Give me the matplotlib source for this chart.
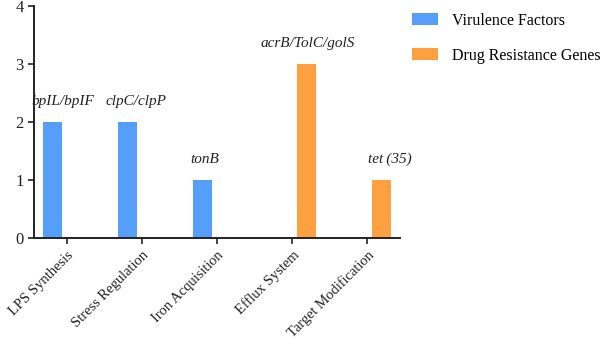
import numpy as np
import matplotlib.pyplot as plt

plt.rcParams['font.family'] = ['Liberation Serif', 'DejaVu Serif']

categories = ['LPS Synthesis', 'Stress Regulation', 'Iron Acquisition',
              'Efflux System', 'Target Modification']
virulence = [2, 2, 1, 0, 0]
drug = [0, 0, 0, 3, 1]
gene_labels = ['bpIL/bpIF', 'clpC/clpP', 'tonB', 'acrB/TolC/golS', 'tet\u2009(35)']
label_shift = [0.13, 0.11, 0.03, 0.02, 0.11]

blue = '#559ffa'
orange = '#fda040'

fig = plt.figure(figsize=(6.08, 3.39), dpi=100)
ax = fig.add_axes([0.056, 0.298, 0.602, 0.684])

x = np.arange(len(categories))
w = 0.25
off = 0.19
ax.bar(x - off, virulence, w, color=blue, label='Virulence Factors')
ax.bar(x + off, drug, w, color=orange, label='Drug Resistance Genes')

# gene names above the taller bar of each category
for i, lab in enumerate(gene_labels):
    if virulence[i] > 0:
        xc, h = x[i] - off, virulence[i]
    else:
        xc, h = x[i] + off, drug[i]
    ax.text(xc + label_shift[i], h + 0.35, lab, ha='center', va='center',
            fontsize=11, style='italic', color='#222222')

ax.set_xlim(-0.44, 4.44)
ax.set_ylim(0, 4)
ax.set_yticks([0, 1, 2, 3, 4])
ax.set_xticks(x)
ax.set_xticklabels(categories, rotation=45, ha='right', rotation_mode='anchor',
                   fontsize=10.5)
ax.tick_params(axis='y', labelsize=12)
ax.tick_params(direction='out', length=4, width=1.2, color='#222222',
               labelcolor='#222222')
for s in ['top', 'right']:
    ax.spines[s].set_visible(False)
for s in ['left', 'bottom']:
    ax.spines[s].set_linewidth(1.4)
    ax.spines[s].set_color('#222222')

ax.legend(loc='upper left', bbox_to_anchor=(1.003, 1.02), frameon=False,
          fontsize=11.5, handlelength=1.6, handleheight=0.8, labelspacing=1.2,
          handletextpad=0.9, borderaxespad=0.3)

fig.savefig('out.png', dpi=100)
